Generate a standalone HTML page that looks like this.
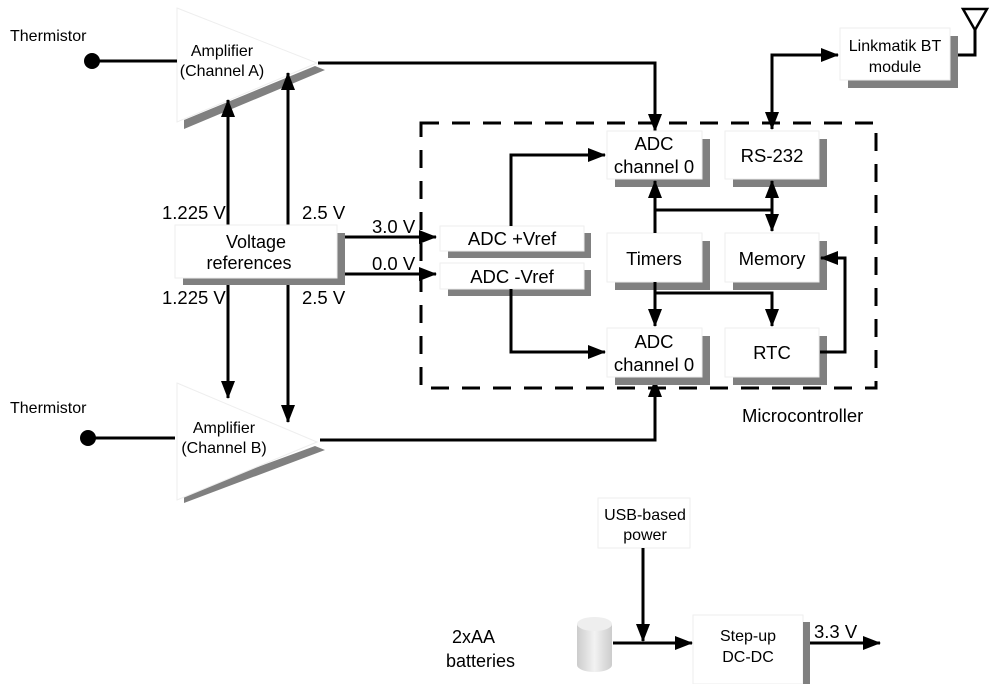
<!DOCTYPE html>
<html><head><meta charset="utf-8"><style>
html,body{margin:0;padding:0;background:#fff}
svg{display:block;font-family:"Liberation Sans",sans-serif}
</style></head><body>
<svg width="1000" height="684" viewBox="0 0 1000 684" xmlns="http://www.w3.org/2000/svg">
<defs>
<marker id="A" markerWidth="18" markerHeight="14" refX="17" refY="7" orient="auto" markerUnits="userSpaceOnUse"><path d="M0,0 L18,7 L0,14 z" fill="#000"/></marker>
<marker id="As" markerWidth="18" markerHeight="14" refX="1" refY="7" orient="auto" markerUnits="userSpaceOnUse"><path d="M18,0 L0,7 L18,14 z" fill="#000"/></marker>
<linearGradient id="g" x1="0" x2="1"><stop offset="0" stop-color="#ccc"/><stop offset=".5" stop-color="#f2f2f2"/><stop offset="1" stop-color="#ccc"/></linearGradient>
</defs>
<g fill="#000" font-size="16">
<text x="10" y="41">Thermistor</text>
<text x="10" y="413">Thermistor</text>
</g>
<!-- Amp A -->
<polygon points="184,120 315,66 325,70 184,129" fill="#808080"/>
<polygon points="177,8 317,63 177,122" fill="#fff" stroke="#eee"/>
<text x="222" y="56" font-size="16" text-anchor="middle">Amplifier</text>
<text x="222" y="76" font-size="16" text-anchor="middle">(Channel A)</text>
<!-- Amp B -->
<polygon points="184,494 315,446 325,450 184,503" fill="#808080"/>
<polygon points="177,383 317,442 177,500" fill="#fff" stroke="#eee"/>
<text x="224" y="433" font-size="16" text-anchor="middle">Amplifier</text>
<text x="224" y="453" font-size="16" text-anchor="middle">(Channel B)</text>
<g stroke="#000" stroke-width="3" fill="none">
<line x1="92" y1="61" x2="177" y2="61"/>
<line x1="88" y1="438" x2="175" y2="438"/>
<polyline points="318,63 655,63 655,131" marker-end="url(#A)"/>
<polyline points="320,440 655,440 655,380" marker-end="url(#A)"/>
<line x1="228" y1="225" x2="228" y2="100" marker-end="url(#A)"/>
<line x1="288" y1="225" x2="288" y2="73" marker-end="url(#A)"/>
<line x1="228" y1="278" x2="228" y2="398" marker-end="url(#A)"/>
<line x1="288" y1="278" x2="288" y2="422" marker-end="url(#A)"/>
<line x1="342" y1="237" x2="436" y2="237" marker-end="url(#A)"/>
<line x1="342" y1="274" x2="436" y2="274" marker-end="url(#A)"/>
</g>
<circle cx="92" cy="61" r="8"/><circle cx="88" cy="438" r="8"/>
<g font-size="18.5">
<text x="162" y="219">1.225 V</text><text x="302" y="219">2.5 V</text>
<text x="162" y="304">1.225 V</text><text x="302" y="304">2.5 V</text>
<text x="372" y="233">3.0 V</text><text x="372" y="270">0.0 V</text>
</g>
<!-- voltage refs -->
<rect x="183" y="233" width="162" height="52" fill="#808080"/>
<rect x="175" y="225" width="162" height="53" fill="#fff" stroke="#eee"/>
<text x="256" y="248" font-size="18" text-anchor="middle">Voltage</text>
<text x="249" y="269" font-size="18" text-anchor="middle">references</text>
<!-- dashed -->
<rect x="421" y="123" width="455" height="265" fill="none" stroke="#000" stroke-width="3" stroke-dasharray="18,13"/>
<g font-size="18.5" text-anchor="middle">
<rect x="448" y="233" width="143" height="25" fill="#808080"/><rect x="440" y="226" width="144" height="25" fill="#fff" stroke="#eee"/><text x="512" y="245">ADC +Vref</text>
<rect x="448" y="270" width="143" height="26" fill="#808080"/><rect x="440" y="263" width="144" height="26" fill="#fff" stroke="#eee"/><text x="512" y="283">ADC -Vref</text>
<rect x="615" y="139" width="95" height="48" fill="#808080"/><rect x="607" y="131" width="95" height="48" fill="#fff" stroke="#eee"/><text x="654" y="150">ADC</text><text x="654" y="173">channel 0</text>
<rect x="733" y="139" width="94" height="48" fill="#808080"/><rect x="725" y="131" width="94" height="48" fill="#fff" stroke="#eee"/><text x="772" y="162">RS-232</text>
<rect x="615" y="241" width="95" height="49" fill="#808080"/><rect x="607" y="233" width="95" height="49" fill="#fff" stroke="#eee"/><text x="654" y="265">Timers</text>
<rect x="733" y="241" width="94" height="49" fill="#808080"/><rect x="725" y="233" width="94" height="49" fill="#fff" stroke="#eee"/><text x="772" y="265">Memory</text>
<rect x="615" y="336" width="95" height="49" fill="#808080"/><rect x="607" y="328" width="95" height="49" fill="#fff" stroke="#eee"/><text x="654" y="348">ADC</text><text x="654" y="371">channel 0</text>
<rect x="733" y="336" width="94" height="49" fill="#808080"/><rect x="725" y="328" width="94" height="49" fill="#fff" stroke="#eee"/><text x="772" y="359">RTC</text>
</g>
<g stroke="#000" stroke-width="3" fill="none">
<polyline points="511,226 511,155 605,155" marker-end="url(#A)"/>
<polyline points="511,289 511,352 605,352" marker-end="url(#A)"/>
<line x1="655" y1="233" x2="655" y2="181" marker-end="url(#A)"/>
<polyline points="655,210 772,210 772,231" marker-end="url(#A)"/>
<line x1="772" y1="210" x2="772" y2="181" marker-end="url(#A)"/>
<line x1="655" y1="282" x2="655" y2="326" marker-end="url(#A)"/>
<polyline points="655,293 772,293 772,326" marker-end="url(#A)"/>
<polyline points="820,352 845,352 845,258 821,258" marker-end="url(#A)"/>
<polyline points="772,129 772,55 838,55" marker-end="url(#A)" marker-start="url(#As)"/>
<polyline points="950,55 975,55 975,30"/>
</g>
<polygon points="963,9 987,9 975,30" fill="none" stroke="#000" stroke-width="2.5"/>
<rect x="848" y="36" width="110" height="52" fill="#808080"/>
<rect x="840" y="28" width="110" height="52" fill="#fff" stroke="#eee"/>
<text x="895" y="51" font-size="16" text-anchor="middle">Linkmatik BT</text>
<text x="895" y="72" font-size="16" text-anchor="middle">module</text>
<text x="742" y="422" font-size="18.5">Microcontroller</text>
<!-- power -->
<rect x="598" y="498" width="92" height="50" fill="#fff" stroke="#eee"/>
<text x="645" y="520" font-size="16" text-anchor="middle">USB-based</text>
<text x="645" y="540" font-size="16" text-anchor="middle">power</text>
<path d="M577,624 L577,665 A17.5,7 0 0 0 612,665 L612,624 Z" fill="url(#g)"/>
<ellipse cx="594.5" cy="624" rx="17.5" ry="7" fill="#eee"/>
<rect x="693" y="615" width="110" height="69" fill="#fff" stroke="#eee"/>
<rect x="803" y="622" width="7" height="62" fill="#808080"/>
<text x="748" y="641" font-size="16" text-anchor="middle">Step-up</text>
<text x="748" y="662" font-size="16" text-anchor="middle">DC-DC</text>
<g stroke="#000" stroke-width="3" fill="none">
<line x1="643" y1="548" x2="643" y2="641" marker-end="url(#A)"/>
<line x1="613" y1="643" x2="692" y2="643" marker-end="url(#A)"/>
<line x1="810" y1="643" x2="880" y2="643" marker-end="url(#A)"/>
</g>
<text x="814" y="638" font-size="18.5">3.3 V</text>
<text x="452" y="643" font-size="18">2xAA</text>
<text x="446" y="667" font-size="18">batteries</text>
</svg>
</body></html>
